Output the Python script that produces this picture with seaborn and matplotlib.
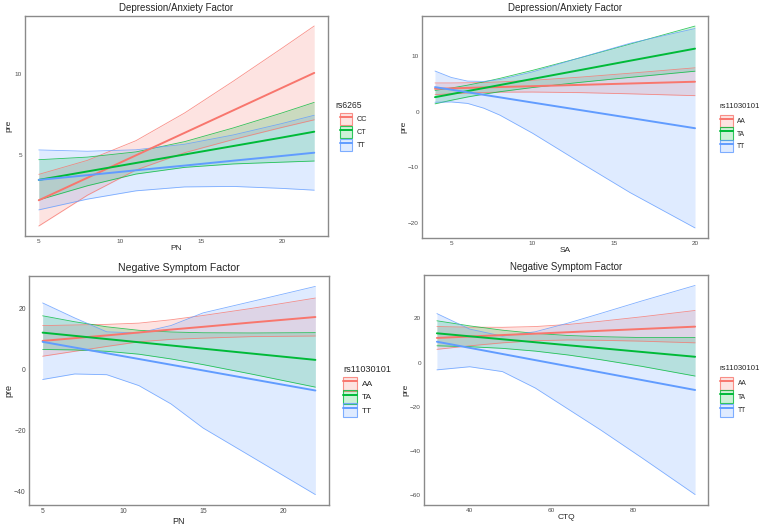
import numpy as np
import pandas as pd
import matplotlib
matplotlib.use('Agg')
import matplotlib.pyplot as plt
import seaborn as sns
from matplotlib.colors import to_rgba
from matplotlib.patches import Patch
from matplotlib.lines import Line2D

sns.set_theme(style='white')
plt.rcParams['font.family'] = ['Liberation Sans', 'DejaVu Sans']

# ggplot default hue colours
hue_colors = ['#F8766D', '#00BA38', '#619CFF']

# Panel 1: Depression/Anxiety ~ PN, rs6265
p1_x = [5, 8, 11, 14, 17, 20, 22]
p1_groups = ['CC', 'CT', 'TT']
p1_fit = [[2.22, 3.60, 4.98, 6.36, 7.74, 9.12, 10.04],
          [3.47, 3.99, 4.51, 5.03, 5.55, 6.07, 6.43],
          [3.47, 3.76, 4.06, 4.35, 4.65, 4.94, 5.14]]
p1_lo = [[0.64, 2.53, 4.08, 5.14, 5.95, 6.69, 7.16],
         [2.24, 3.11, 3.83, 4.24, 4.45, 4.56, 4.63],
         [1.63, 2.29, 2.80, 3.04, 3.07, 2.95, 2.84]]
p1_hi = [[3.81, 4.67, 5.88, 7.58, 9.53, 11.55, 12.92],
         [4.71, 4.87, 5.19, 5.82, 6.66, 7.58, 8.23],
         [5.31, 5.23, 5.32, 5.66, 6.23, 6.93, 7.44]]

# Panel 2: Depression/Anxiety ~ SA, rs11030101
p2_x = [4, 5, 6, 7, 8, 10, 13, 16, 20]
p2_groups = ['AA', 'TA', 'TT']
p2_fit = [[4.11, 4.19, 4.27, 4.35, 4.43, 4.58, 4.82, 5.06, 5.38],
          [2.61, 3.15, 3.70, 4.24, 4.79, 5.88, 7.51, 9.15, 11.32],
          [4.41, 3.95, 3.49, 3.03, 2.57, 1.64, 0.26, -1.12, -2.97]]
p2_lo = [[3.06, 3.22, 3.35, 3.45, 3.51, 3.53, 3.42, 3.21, 2.88],
         [1.41, 2.05, 2.64, 3.14, 3.59, 4.34, 5.29, 6.16, 7.27],
         [1.70, 1.75, 1.49, 0.63, -0.63, -3.86, -9.24, -14.52, -20.87]]
p2_hi = [[5.16, 5.16, 5.19, 5.25, 5.35, 5.63, 6.22, 6.91, 7.88],
         [3.81, 4.25, 4.76, 5.34, 5.99, 7.42, 9.73, 12.14, 15.37],
         [7.30, 6.15, 5.49, 5.43, 5.77, 7.14, 9.76, 12.28, 14.93]]

# Panel 3: Negative Symptom ~ PN, rs11030101
p3_x = [5, 7, 9, 11, 13, 15, 18, 22]
p3_groups = ['AA', 'TA', 'TT']
p3_fit = [[9.3, 10.2, 11.1, 12.05, 13.0, 13.9, 15.3, 17.1],
          [12.0, 10.95, 9.9, 8.86, 7.81, 6.76, 5.19, 3.1],
          [9.0, 7.13, 5.26, 3.39, 1.52, -0.35, -3.16, -6.9]]
p3_lo = [[4.3, 5.9, 7.5, 9.0, 9.8, 10.2, 10.7, 10.9],
         [6.5, 6.35, 5.9, 4.96, 3.41, 1.56, -1.51, -5.8],
         [-3.3, -1.5, -1.74, -5.3, -11.28, -19.15, -28.46, -40.9]]
p3_hi = [[14.3, 14.5, 14.7, 15.1, 16.2, 17.6, 19.9, 23.3],
         [17.5, 15.55, 13.9, 12.76, 12.21, 11.96, 11.89, 12.0],
         [21.7, 16.8, 12.26, 11.9, 14.32, 18.45, 22.14, 27.1]]

# Panel 4: Negative Symptom ~ CTQ, rs11030101
p4_x = [32, 40, 48, 56, 64, 72, 82, 95]
p4_groups = ['AA', 'TA', 'TT']
p4_fit = [[11.1, 11.75, 12.4, 13.04, 13.69, 14.34, 15.15, 16.2],
          [13.2, 11.85, 10.5, 9.16, 7.81, 6.47, 4.78, 2.6],
          [9.4, 6.63, 3.86, 1.09, -1.67, -4.44, -7.9, -12.4]]
p4_lo = [[5.95, 7.55, 8.9, 9.84, 10.19, 10.04, 9.65, 8.9],
         [7.55, 7.15, 6.4, 5.16, 3.41, 1.27, -1.72, -6.1],
         [-3.3, -1.9, -4.1, -11.5, -21.0, -30.5, -43.0, -59.6]]
p4_hi = [[16.25, 15.95, 15.9, 16.24, 17.19, 18.64, 20.65, 23.5],
         [18.85, 16.55, 14.6, 13.16, 12.21, 11.67, 11.28, 11.3],
         [22.1, 15.1, 11.9, 13.9, 17.8, 22.2, 27.8, 34.8]]


def build(x, groups, fits, los, his):
    frames = []
    for g, f, lo, hi in zip(groups, fits, los, his):
        frames.append(pd.DataFrame({'x': x, 'g': g, 'fit': f, 'lo': lo, 'hi': hi}))
    return pd.concat(frames, ignore_index=True)


W, H = 769, 527
fig = plt.figure(figsize=(W / 100, H / 100), dpi=100)
PT = 100 / 72  # pixels per point


def add_ax(left, top, right, bottom):
    return fig.add_axes([left / W, 1 - bottom / H, (right - left) / W, (bottom - top) / H])


def draw_panel(ax, df, groups, title, xlabel, legend_title, xticks, yticks, s, ypad, leg):
    pal = dict(zip(groups, hue_colors))
    for g in groups:
        d = df[df.g == g]
        ax.fill_between(d.x, d.lo, d.hi, color=pal[g], alpha=0.2, lw=0)
        ax.plot(d.x, d.lo, color=pal[g], lw=0.6, alpha=0.8)
        ax.plot(d.x, d.hi, color=pal[g], lw=0.6, alpha=0.8)
    sns.lineplot(data=df, x='x', y='fit', hue='g', hue_order=groups, palette=pal,
                 estimator=None, lw=1.4, legend=False, ax=ax)

    # ggplot-like expansion of 5%
    xmin, xmax = df.x.min(), df.x.max()
    ymin, ymax = df.lo.min(), df.hi.max()
    ax.set_xlim(xmin - 0.05 * (xmax - xmin), xmax + 0.05 * (xmax - xmin))
    ax.set_ylim(ymin - 0.05 * (ymax - ymin), ymax + 0.05 * (ymax - ymin))
    ax.set_xticks(xticks)
    ax.set_yticks(yticks)
    ax.tick_params(length=0, labelsize=4.6 * s, labelcolor='#4D4D4D', pad=2.2 * s)

    ax.set_title(title, fontsize=7.0 * s, pad=3.5)
    ax.set_xlabel(xlabel, fontsize=6.0 * s, labelpad=1.0)
    ax.set_ylabel('pre', fontsize=6.0 * s, labelpad=ypad)
    for sp in ax.spines.values():
        sp.set_color('#8a8a8a')
        sp.set_linewidth(1.0)

    # legend: separate title text, keys placed in pixels
    tx, ty, kx, ky, key_px, step_px, fs, tfs = leg
    fig.text(tx / W, 1 - ty / H, legend_title, fontsize=tfs, va='center', ha='left')
    fpx = fs * PT
    hh = (key_px / fpx - 0.245) / 0.65
    handles = [(Patch(facecolor=to_rgba(pal[g], 0.2), edgecolor=to_rgba(pal[g], 0.8), lw=0.8),
                Line2D([], [], color=pal[g], lw=1.4)) for g in groups]
    ax.legend(handles, groups, loc='upper left',
              bbox_to_anchor=(kx / W, 1 - (ky - key_px / 2) / H),
              bbox_transform=fig.transFigure, frameon=False, fontsize=fs,
              handlelength=key_px / fpx, handleheight=hh,
              labelspacing=(step_px - key_px) / fpx, handletextpad=4.5 / fpx,
              borderaxespad=0, borderpad=0)


ax1 = add_ax(25, 16, 328, 236)
draw_panel(ax1, build(p1_x, p1_groups, p1_fit, p1_lo, p1_hi), p1_groups,
           'Depression/Anxiety Factor', 'PN', 'rs6265', [5, 10, 15, 20], [5, 10],
           1.0, 2.0, (335, 106, 340, 119, 12, 13, 5.2, 6.2))

ax2 = add_ax(422, 16, 708, 238)
draw_panel(ax2, build(p2_x, p2_groups, p2_fit, p2_lo, p2_hi), p2_groups,
           'Depression/Anxiety Factor', 'SA', 'rs11030101', [5, 10, 15, 20], [-20, -10, 0, 10],
           1.0, 0.5, (720, 107, 720, 121, 12.5, 12.5, 4.8, 5.6))

ax3 = add_ax(29, 276, 329, 505)
draw_panel(ax3, build(p3_x, p3_groups, p3_fit, p3_lo, p3_hi), p3_groups,
           'Negative Symptom Factor', 'PN', 'rs11030101', [5, 10, 15, 20], [-40, -20, 0, 20],
           1.08, 0.3, (343, 369, 343, 383.5, 14, 13.3, 6.0, 6.6))

ax4 = add_ax(424, 275, 708, 505)
draw_panel(ax4, build(p4_x, p4_groups, p4_fit, p4_lo, p4_hi), p4_groups,
           'Negative Symptom Factor', 'CTQ', 'rs11030101', [40, 60, 80], [-60, -40, -20, 0, 20],
           1.0, 0.5, (720, 369, 720, 383, 13, 13.5, 4.8, 5.6))

fig.savefig('out.png', dpi=100)
